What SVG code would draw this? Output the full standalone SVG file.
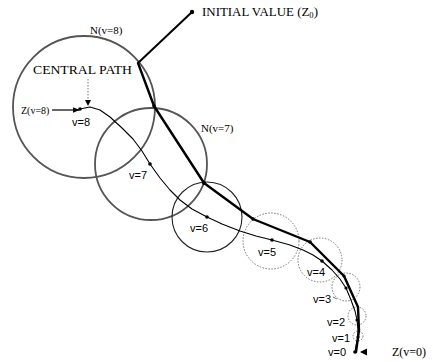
<svg xmlns="http://www.w3.org/2000/svg" width="433" height="362" viewBox="0 0 433 362">
<defs>
<style>
.serif{font-family:"Liberation Serif","Times New Roman",serif;fill:#000}
.sans{font-family:"Liberation Sans",Arial,sans-serif;fill:#000;font-size:11px}
.big{fill:none;stroke:#555;stroke-width:1.8}
.mid{fill:none;stroke:#222;stroke-width:1.1}
.dot{fill:none;stroke:#666;stroke-width:0.9;stroke-dasharray:1.5 1.5}
.thick{fill:none;stroke:#000;stroke-width:2.4;stroke-linejoin:round;stroke-linecap:round}
.thin{fill:none;stroke:#000;stroke-width:1.1;stroke-linejoin:round}
.pt{fill:#000}
</style>
<marker id="ah" viewBox="0 0 10 10" refX="9" refY="5" markerWidth="7" markerHeight="7" orient="auto" markerUnits="userSpaceOnUse"><path d="M0,1 L10,5 L0,9 Z" fill="#000"/></marker>
</defs>
<rect width="433" height="362" fill="#fff"/>

<g id="neighborhoods">
<circle id="N8" class="big" cx="84" cy="107" r="71"/>
<circle id="N7" class="big" cx="151" cy="164" r="56"/>
<circle id="N6" class="mid" cx="207" cy="217" r="35"/>
<circle id="N5" class="dot" cx="271" cy="241" r="28"/>
<circle id="N4" class="dot" cx="320" cy="260" r="22"/>
<circle id="N3" class="dot" cx="346" cy="287" r="14"/>
<circle id="N2" class="dot" cx="357" cy="316" r="9"/>
<circle id="N1" class="dot" cx="358" cy="336" r="5"/>
</g>

<g id="connectors">
<line id="initial-line" x1="138" y1="63" x2="192" y2="12" stroke="#000" stroke-width="2"/>
<polyline id="central-path" class="thick" points="138,63 154,106 204,183 253,219 310,242 344,276 358,307 359,330 356,352"/>
<polyline id="weighted-path" class="thin" points="80,109 90,107 100,110 110,117 122,128 133,139 142,151 150,164 160,178 170,190 180,200 192,209 207,217 222,224 240,231 256,236 272,240 290,245 303,250 313,255 322,261 332,270 340,279 346,288 351,300 355,311 357,320 358,330 358,338 356,346 355,352"/>
<line id="z8-arrow" x1="52" y1="110" x2="79" y2="110" stroke="#000" stroke-width="1.2" marker-end="url(#ah)"/>
<line id="cp-leader" x1="88" y1="79" x2="88" y2="99" stroke="#777" stroke-width="1" stroke-dasharray="1.5 1.5"/>
<path id="cp-tri" d="M85,100 L91,100 L88,106 Z" fill="#000"/>
<path id="z0-arrow" d="M360,352 L367,348.5 L367,355.5 Z" fill="#000"/>
<line id="v3-leader" x1="333" y1="297" x2="337" y2="299" stroke="#555" stroke-width="0.8"/>
</g>

<g id="points">
<circle class="pt" cx="192" cy="12" r="2.2"/>
<circle class="pt" cx="154" cy="106" r="1.8"/>
<circle class="pt" cx="204" cy="183" r="2"/>
<circle class="pt" cx="253" cy="219" r="1.8"/>
<circle class="pt" cx="310" cy="242" r="1.8"/>
<circle class="pt" cx="344" cy="276" r="1.6"/>
<circle class="pt" cx="80" cy="109" r="1.8"/>
<circle class="pt" cx="150" cy="164" r="1.8"/>
<circle class="pt" cx="207" cy="217" r="1.8"/>
<circle class="pt" cx="272" cy="240" r="1.8"/>
<circle class="pt" cx="322" cy="261" r="1.8"/>
<circle class="pt" cx="346" cy="288" r="1.6"/>
<circle class="pt" cx="357" cy="320" r="1.6"/>
<circle class="pt" cx="358" cy="337" r="1.6"/>
<circle class="pt" cx="355" cy="352" r="1.8"/>
</g>

<g id="labels">
<text class="serif" x="202" y="16" font-size="12" textLength="116" lengthAdjust="spacingAndGlyphs">INITIAL VALUE (Z<tspan font-size="8" dy="2">0</tspan><tspan dy="-2">)</tspan></text>
<text class="serif" x="90" y="34" font-size="11">N(v=8)</text>
<text class="serif" x="33" y="74" font-size="12" textLength="99" lengthAdjust="spacingAndGlyphs">CENTRAL PATH</text>
<text class="serif" x="21" y="114" font-size="10">Z(v=8)</text>
<text class="sans" x="72" y="126">v=8</text>
<text class="serif" x="201" y="132" font-size="11">N(v=7)</text>
<text class="sans" x="129" y="179">v=7</text>
<text class="sans" x="190" y="232">v=6</text>
<text class="sans" x="258" y="256">v=5</text>
<text class="sans" x="307" y="276">v=4</text>
<text class="sans" x="313" y="303">v=3</text>
<text class="sans" x="327" y="326">v=2</text>
<text class="sans" x="332" y="342">v=1</text>
<text class="sans" x="328" y="356">v=0</text>
<text class="serif" x="392" y="356" font-size="12">Z(v=0)</text>
</g>
</svg>
